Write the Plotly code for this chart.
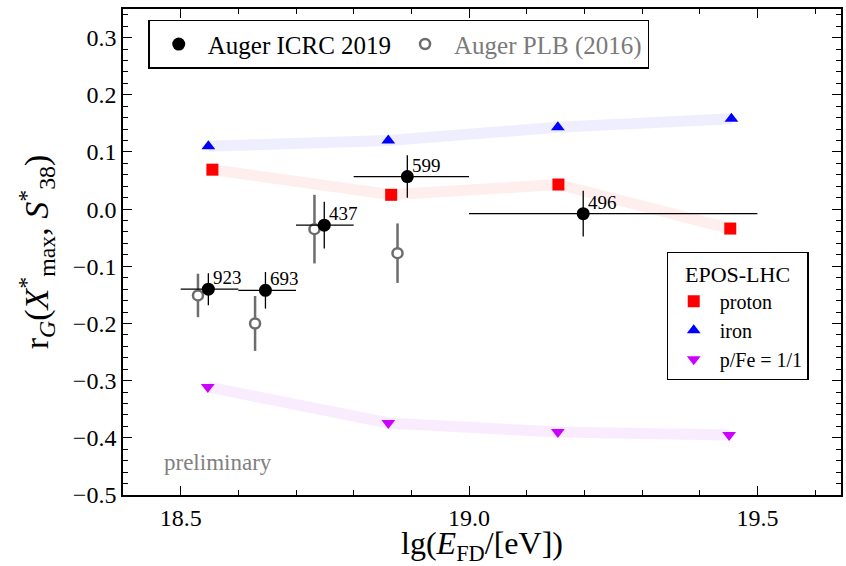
import plotly.graph_objects as go

# Auger ICRC 2019: bin centres, bin edges, correlation, stat. errors, event counts
icrc_lgE = [18.548, 18.647, 18.749, 18.893, 19.198]
icrc_lo = [18.5, 18.6, 18.7, 18.8, 19.0]
icrc_hi = [18.6, 18.7, 18.8, 19.0, 19.5]
icrc_r = [-0.140, -0.142, -0.028, 0.057, -0.008]
icrc_err = [0.028, 0.032, 0.041, 0.037, 0.040]
icrc_n = ["923", "693", "437", "599", "496"]

# Auger PLB (2016)
plb_lgE = [18.530, 18.629, 18.732, 18.876]
plb_r = [-0.151, -0.200, -0.035, -0.077]
plb_err = [0.038, 0.048, 0.060, 0.052]

# EPOS-LHC predictions
proton_lgE = [18.555, 18.865, 19.155, 19.453]
proton_r = [0.069, 0.025, 0.043, -0.034]
iron_lgE = [18.548, 18.860, 19.154, 19.455]
iron_r = [0.110, 0.120, 0.143, 0.158]
mix_lgE = [18.547, 18.860, 19.154, 19.451]
mix_r = [-0.311, -0.374, -0.390, -0.395]

x_ticks = [18.5, 19.0, 19.5]
y_ticks = [0.3, 0.2, 0.1, 0.0, -0.1, -0.2, -0.3, -0.4, -0.5]

SERIF = "Liberation Serif, Times New Roman, serif"
GRAY = "#6d6d6d"

fig = go.Figure()

# pale bands joining the model points
for xs, ys, col in [
    (iron_lgE, iron_r, "rgba(40,40,255,0.08)"),
    (proton_lgE, proton_r, "rgba(255,40,40,0.08)"),
    (mix_lgE, mix_r, "rgba(200,40,255,0.09)"),
]:
    fig.add_trace(go.Scatter(x=xs, y=ys, mode="lines", line=dict(color=col, width=11),
                             showlegend=False, hoverinfo="skip"))

# model markers
fig.add_trace(go.Scatter(x=proton_lgE, y=proton_r, mode="markers", name="proton",
                         marker=dict(symbol="square", size=12, color="#ff0000"),
                         legend="legend2"))
fig.add_trace(go.Scatter(x=iron_lgE, y=iron_r, mode="markers", name="iron",
                         marker=dict(symbol="triangle-up", size=12, color="#0000ff"),
                         legend="legend2"))
fig.add_trace(go.Scatter(x=mix_lgE, y=mix_r, mode="markers", name="p/Fe = 1/1",
                         marker=dict(symbol="triangle-down", size=12, color="#cc00ff"),
                         legend="legend2"))

# Auger PLB (2016)
fig.add_trace(go.Scatter(
    x=plb_lgE, y=plb_r, mode="markers",
    name='<span style="color:#7a7a7a">Auger PLB (2016)</span>',
    marker=dict(symbol="circle", size=10, color="white", line=dict(color=GRAY, width=2.5)),
    error_y=dict(type="data", array=plb_err, color=GRAY, thickness=2.5, width=0),
    legend="legend"))

# Auger ICRC 2019
fig.add_trace(go.Scatter(
    x=icrc_lgE, y=icrc_r, mode="markers", name="Auger ICRC 2019",
    marker=dict(symbol="circle", size=13, color="black"),
    error_y=dict(type="data", array=icrc_err, color="black", thickness=1.3, width=0),
    error_x=dict(type="data",
                 array=[h - c for h, c in zip(icrc_hi, icrc_lgE)],
                 arrayminus=[c - l for c, l in zip(icrc_lgE, icrc_lo)],
                 color="black", thickness=1.3, width=0),
    legend="legend"))

# event counts next to each point
for xv, yv, txt in zip(icrc_lgE, icrc_r, icrc_n):
    fig.add_annotation(x=xv, y=yv, text=txt, showarrow=False, xanchor="left",
                       yanchor="bottom", xshift=3, yshift=-1,
                       font=dict(family=SERIF, size=19, color="black"))

fig.add_annotation(x=18.467, y=-0.443, text="preliminary", showarrow=False,
                   xanchor="left", yanchor="middle",
                   font=dict(family=SERIF, size=23, color="#808080"))

axis_common = dict(
    showline=True, linecolor="black", linewidth=1.6, mirror="allticks",
    ticks="inside", ticklen=9, tickwidth=1.3, tickcolor="black",
    showgrid=False, zeroline=False,
    tickfont=dict(family=SERIF, size=24, color="black"),
)

fig.update_xaxes(
    range=[18.4, 19.645], tickvals=x_ticks, tickformat=".1f",
    minor=dict(ticks="inside", dtick=0.1, tick0=18.4, ticklen=5, tickwidth=1.1,
               tickcolor="black", showgrid=False),
    title=dict(text="lg(<i>E</i><sub>FD</sub>/[eV])", standoff=10,
               font=dict(family=SERIF, size=32, color="black")),
    **axis_common)
fig.update_yaxes(
    range=[-0.5, 0.35], tickvals=y_ticks, tickformat=".1f",
    minor=dict(ticks="inside", dtick=0.02, tick0=0, ticklen=5, tickwidth=1.1,
               tickcolor="black", showgrid=False),
    title=dict(text="r<sub><i>G</i></sub>(<i>X</i><sup>*</sup><sub>max</sub>, "
                    "<i>S</i><sup>*</sup><sub>38</sub>)",
               standoff=14, font=dict(family=SERIF, size=34, color="black")),
    **axis_common)

fig.update_layout(
    width=846, height=566,
    margin=dict(l=123, r=3, t=9, b=70),
    plot_bgcolor="white", paper_bgcolor="white",
    font=dict(family=SERIF, color="black"),
    legend=dict(orientation="h", x=0.035, y=0.978, xanchor="left", yanchor="top",
                bordercolor="black", borderwidth=1.6, bgcolor="white",
                font=dict(family=SERIF, size=25, color="black"),
                traceorder="reversed", itemwidth=48),
    legend2=dict(orientation="v", x=0.757, y=0.5, xanchor="left", yanchor="top",
                 bordercolor="black", borderwidth=1.2, bgcolor="white",
                 font=dict(family=SERIF, size=20, color="black"),
                 title=dict(text="EPOS-LHC", side="top center",
                            font=dict(family=SERIF, size=22, color="black")),
                 itemwidth=42),
)

fig.write_html("out.html")
